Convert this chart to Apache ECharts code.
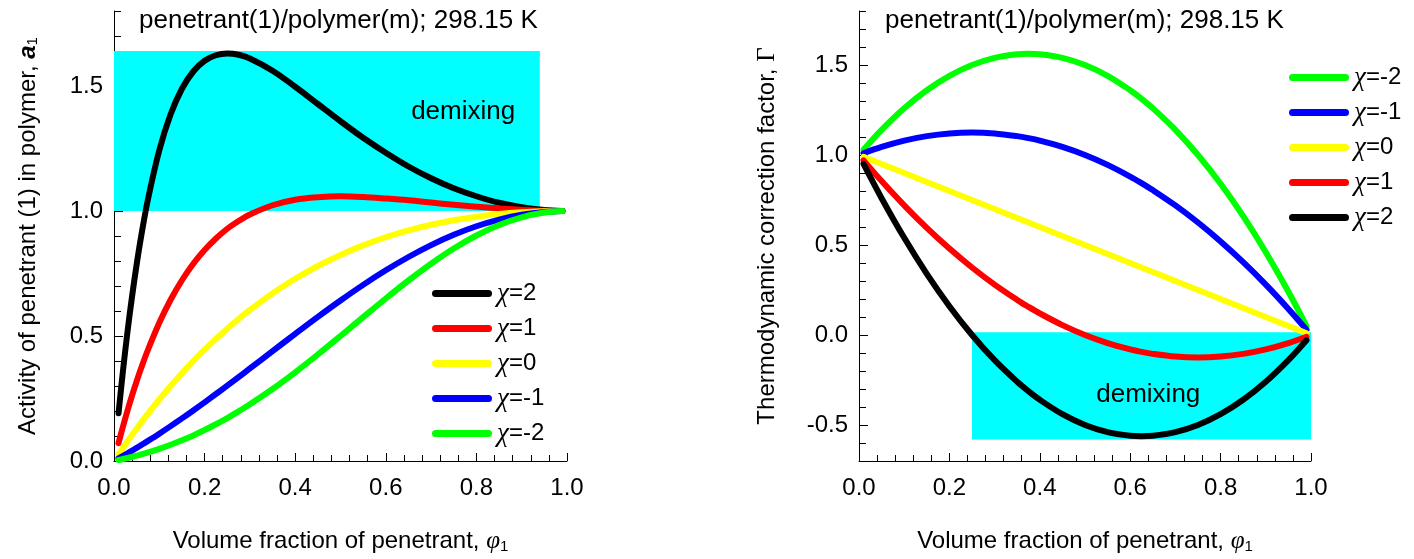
<!DOCTYPE html>
<html>
<head>
<meta charset="utf-8">
<script src="https://cdn.jsdelivr.net/npm/echarts@6/dist/echarts.min.js"></script>
<style>
  html, body { margin: 0; padding: 0; background: #fff; }
  #chart { width: 1414px; height: 559px; }
</style>
</head>
<body>
<div id="chart"></div>
<script>
// Volume fraction of penetrant (left panel: activity a1)
const phiLeft = [0.01, 0.02, 0.03, 0.04, 0.05, 0.06, 0.075, 0.1, 0.125, 0.15, 0.175, 0.2, 0.225, 0.25, 0.275,
  0.3, 0.35, 0.4, 0.45, 0.5, 0.55, 0.6, 0.65, 0.7, 0.75, 0.8, 0.85, 0.9, 0.95, 0.99];

const actChi2 = [0.191, 0.364, 0.520, 0.660, 0.786, 0.899, 1.047, 1.243, 1.387, 1.489, 1.558, 1.601, 1.623, 1.630,
  1.625, 1.610, 1.561, 1.497, 1.428, 1.359, 1.293, 1.233, 1.178, 1.131, 1.091, 1.059, 1.033, 1.015, 1.004, 1.000];
const actChi1 = [0.0717, 0.139, 0.203, 0.263, 0.319, 0.372, 0.445, 0.553, 0.645, 0.723, 0.789, 0.844, 0.890, 0.929,
  0.960, 0.986, 1.023, 1.045, 1.055, 1.059, 1.056, 1.050, 1.043, 1.034, 1.025, 1.017, 1.010, 1.005, 1.001, 1.000];
const actChi0 = [0.0269, 0.0533, 0.0791, 0.1045, 0.1293, 0.1536, 0.1891, 0.2460, 0.2999, 0.3510, 0.3993, 0.4451,
  0.4884, 0.5293, 0.5678, 0.6041, 0.6705, 0.7288, 0.7800, 0.8244, 0.8626, 0.8951, 0.9224, 0.9449, 0.9630,
  0.9772, 0.9876, 0.9946, 0.9987, 1.000];
const actChiM1 = [0.0101, 0.0204, 0.0309, 0.0416, 0.0524, 0.0635, 0.0804, 0.1094, 0.1395, 0.1704, 0.2022, 0.2347,
  0.2679, 0.3016, 0.3357, 0.3701, 0.4394, 0.5085, 0.5764, 0.6420, 0.7045, 0.7628, 0.8160, 0.8636, 0.9047,
  0.9389, 0.9656, 0.9847, 0.9962, 0.9999];
const actChiM2 = [0.0038, 0.0078, 0.0121, 0.0165, 0.0213, 0.0262, 0.0342, 0.0487, 0.0649, 0.0827, 0.1024, 0.1238,
  0.1469, 0.1718, 0.1984, 0.2267, 0.2880, 0.3548, 0.4259, 0.5000, 0.5753, 0.6500, 0.7220, 0.7892, 0.8499,
  0.9021, 0.9441, 0.9749, 0.9937, 0.9998];

// Volume fraction of penetrant (right panel: thermodynamic correction factor)
const phiRight = [0.01, 0.05, 0.1, 0.15, 0.2, 0.25, 0.3, 0.35, 0.375, 0.4, 0.45, 0.5, 0.55, 0.6, 0.625, 0.65,
  0.7, 0.75, 0.8, 0.85, 0.9, 0.95, 0.99];

const gamChiM2 = [1.0296, 1.14, 1.26, 1.36, 1.44, 1.50, 1.54, 1.56, 1.5625, 1.56, 1.54, 1.50, 1.44, 1.36, 1.3125,
  1.26, 1.14, 1.00, 0.84, 0.66, 0.46, 0.24, 0.0496];
const gamChiM1 = [1.0098, 1.045, 1.08, 1.105, 1.12, 1.125, 1.12, 1.105, 1.0938, 1.08, 1.045, 1.00, 0.945, 0.88,
  0.8438, 0.805, 0.72, 0.625, 0.52, 0.405, 0.28, 0.145, 0.0298];
const gamChi0 = [0.99, 0.95, 0.90, 0.85, 0.80, 0.75, 0.70, 0.65, 0.625, 0.60, 0.55, 0.50, 0.45, 0.40, 0.375, 0.35,
  0.30, 0.25, 0.20, 0.15, 0.10, 0.05, 0.01];
const gamChi1 = [0.9702, 0.855, 0.72, 0.595, 0.48, 0.375, 0.28, 0.195, 0.1563, 0.12, 0.055, 0.0, -0.045, -0.08,
  -0.0938, -0.105, -0.12, -0.125, -0.12, -0.105, -0.08, -0.045, -0.0098];
const gamChi2 = [0.9504, 0.76, 0.54, 0.34, 0.16, 0.0, -0.14, -0.26, -0.3125, -0.36, -0.44, -0.50, -0.54, -0.56,
  -0.5625, -0.56, -0.54, -0.50, -0.44, -0.36, -0.26, -0.14, -0.0296];

// Series names (legend labels)
const namesLeft = ['χ=2', 'χ=1', 'χ=0', 'χ=-1', 'χ=-2'];
const namesRight = ['χ=-2', 'χ=-1', 'χ=0', 'χ=1', 'χ=2'];

// Shaded demixing regions [x range], [y range]
const demixLeftX = [0, 0.94];
const demixLeftY = [1.0, 1.64];
const demixRightX = [0.25, 1.0];
const demixRightY = [0.015, -0.58];

// Axis tick values
const leftMajorY = [0, 0.5, 1.0, 1.5];
const rightMajorY = [-0.5, 0, 0.5, 1.0, 1.5];

const titleText = 'penetrant(1)/polymer(m); 298.15 K';
const regionText = 'demixing';

const FONT = 'Liberation Sans';
const SERIF = 'Liberation Serif';
const colorOf = { 'χ=2': '#000000', 'χ=1': '#ff0000', 'χ=0': '#ffff00', 'χ=-1': '#0000ff', 'χ=-2': '#00ff00' };

const pairs = (xs, ys) => xs.map((x, i) => [x, ys[i]]);

function curve(name, xs, ys, gi) {
  return {
    type: 'line', name, xAxisIndex: gi, yAxisIndex: gi * 2,
    data: pairs(xs, ys), smooth: 0.35, showSymbol: false, symbol: 'none', clip: false,
    lineStyle: { color: colorOf[name], width: 6, cap: 'round', join: 'round' },
    itemStyle: { color: colorOf[name] },
    emphasis: { disabled: true }, z: 3
  };
}

function region(xr, yr, gi, pos) {
  return {
    type: 'line', name: 'region' + gi, xAxisIndex: gi, yAxisIndex: gi * 2, data: [], z: 1,
    markArea: {
      silent: true,
      itemStyle: { color: '#00ffff', opacity: 1 },
      label: {
        show: true, position: pos, align: 'center', verticalAlign: 'middle',
        formatter: regionText, fontFamily: FONT, fontSize: 26, color: '#000'
      },
      data: [[{ xAxis: xr[0], yAxis: yr[0] }, { xAxis: xr[1], yAxis: yr[1] }]]
    }
  };
}

const axisBlack = { color: '#000', width: 1 };
const nameStyle = {
  fontFamily: FONT, fontSize: 24, color: '#000',
  rich: {
    it: { fontFamily: FONT, fontSize: 24, fontStyle: 'italic', fontWeight: 'bold', color: '#000' },
    gr: { fontFamily: SERIF, fontSize: 25, fontStyle: 'italic', color: '#000' },
    up: { fontFamily: SERIF, fontSize: 25, color: '#000' },
    sub: { fontFamily: FONT, fontSize: 15, color: '#000', verticalAlign: 'bottom', lineHeight: 14 }
  }
};

function xAxisFor(gi) {
  return {
    type: 'value', gridIndex: gi, min: 0, max: 1, interval: 0.2, position: 'bottom',
    axisLine: { onZero: false, lineStyle: axisBlack },
    axisTick: { inside: true, length: 8, lineStyle: axisBlack },
    minorTick: { show: true, splitNumber: 5, length: 6, lineStyle: axisBlack },
    splitLine: { show: false }, minorSplitLine: { show: false },
    axisLabel: { margin: 15, fontFamily: FONT, fontSize: 24, color: '#000', formatter: v => v.toFixed(1) },
    name: 'Volume fraction of penetrant, {gr|φ}{sub|1}', nameLocation: 'middle', nameGap: 68,
    nameTextStyle: nameStyle
  };
}

const fmtMajor = v => (Math.abs(v * 2 - Math.round(v * 2)) < 1e-6)
  ? (Math.abs(v) < 1e-9 ? '0.0' : v.toFixed(1)) : '';

function yAxisPair(gi, min, max, majors, name, gap) {
  return [
    {
      type: 'value', gridIndex: gi, min, max, interval: 0.1, position: 'left', offset: 0,
      axisLine: { show: true, onZero: false, lineStyle: axisBlack },
      axisTick: { inside: true, length: 7, lineStyle: axisBlack },
      splitLine: { show: false },
      axisLabel: { margin: 11, fontFamily: FONT, fontSize: 24, color: '#000', formatter: fmtMajor },
      name, nameLocation: 'middle', nameGap: gap, nameTextStyle: nameStyle
    },
    {
      type: 'value', gridIndex: gi, min, max, position: 'left', offset: 0,
      axisLine: { show: false, onZero: false },
      axisTick: { show: true, inside: true, length: 9, lineStyle: axisBlack, customValues: majors },
      axisLabel: { show: false }, splitLine: { show: false }
    }
  ];
}

function legendFor(names, left, top) {
  return {
    data: names, orient: 'vertical', left, top, padding: 0, itemGap: 8,
    itemWidth: 60, itemHeight: 7, selectedMode: false,
    icon: 'path://M3.5,0H56.5A3.5,3.5,0,0,1,56.5,7H3.5A3.5,3.5,0,0,1,3.5,0Z',
    formatter: n => n.replace('χ', '{c|χ}'),
    textStyle: {
      fontFamily: FONT, fontSize: 24, color: '#000', lineHeight: 26,
      rich: { c: { fontFamily: SERIF, fontStyle: 'italic', fontSize: 27, color: '#000', lineHeight: 26 } }
    }
  };
}

const chart = echarts.init(document.getElementById('chart'), null, { renderer: 'canvas' });
chart.setOption({
  animation: false,
  backgroundColor: '#fff',
  title: [
    { text: titleText, left: 139, top: 8, padding: 0,
      textStyle: { fontFamily: FONT, fontSize: 26, fontWeight: 'normal', color: '#000' } },
    { text: titleText, left: 885, top: 8, padding: 0,
      textStyle: { fontFamily: FONT, fontSize: 26, fontWeight: 'normal', color: '#000' } }
  ],
  legend: [legendFor(namesLeft, 432, 280), legendFor(namesRight, 1289, 64)],
  grid: [
    { left: 114, top: 11, width: 453, height: 452 },
    { left: 859, top: 11, width: 452, height: 453 }
  ],
  xAxis: [xAxisFor(0), xAxisFor(1)],
  yAxis: [
    ...yAxisPair(0, 0, 1.8, leftMajorY, 'Activity of penetrant (1) in polymer, {it|a}{sub|1}', 74),
    ...yAxisPair(1, -0.7, 1.8, rightMajorY, 'Thermodynamic correction factor, {up|Γ}', 79)
  ],
  series: [
    region(demixLeftX, demixLeftY, 0, ['82%', '38%']),
    curve('χ=2', phiLeft, actChi2, 0),
    curve('χ=1', phiLeft, actChi1, 0),
    curve('χ=0', phiLeft, actChi0, 0),
    curve('χ=-1', phiLeft, actChiM1, 0),
    curve('χ=-2', phiLeft, actChiM2, 0),
    region(demixRightX, demixRightY, 1, ['52%', '58%']),
    curve('χ=-2', phiRight, gamChiM2, 1),
    curve('χ=-1', phiRight, gamChiM1, 1),
    curve('χ=0', phiRight, gamChi0, 1),
    curve('χ=1', phiRight, gamChi1, 1),
    curve('χ=2', phiRight, gamChi2, 1)
  ]
});
</script>
</body>
</html>
